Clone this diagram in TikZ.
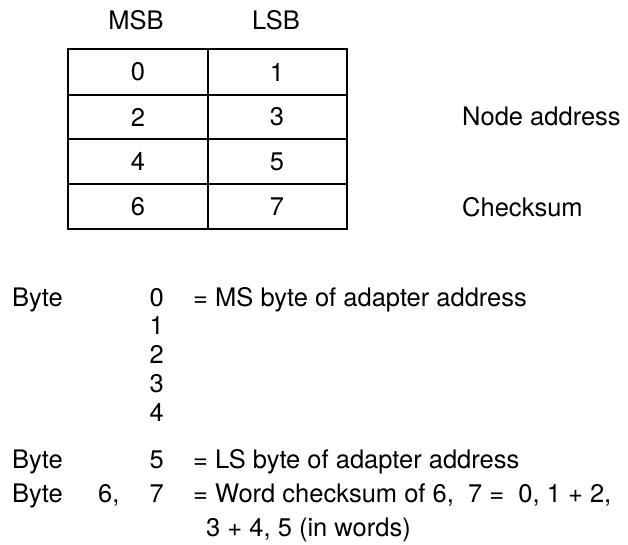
\documentclass[tikz,border=0pt]{standalone}
\usepackage{fontspec}
\setmainfont{TeX Gyre Heros}
\begin{document}
\begin{tikzpicture}[x=1pt,y=-1pt,
  txt/.style={inner sep=0pt,font=\fontsize{25.5}{30}\selectfont},
  gridline/.style={line width=1.2pt,line cap=rect}]
\useasboundingbox (0,0) rectangle (628,545);
% header
\node[txt,anchor=base] (msb) at (136,30) {MSB};
\node[txt,anchor=base] (lsb) at (276,30) {LSB};
% table
\draw[gridline] (68,49) rectangle (347,229);
\foreach \yy in {95,139,184} \draw[gridline] (68,\yy) -- (347,\yy);
\draw[gridline] (208,49) -- (208,229);
\node[txt] (c0) at (138,72) {0};
\node[txt] (c1) at (277,72) {1};
\node[txt] (c2) at (138,117) {2};
\node[txt] (c3) at (277,117) {3};
\node[txt] (c4) at (138,161.5) {4};
\node[txt] (c5) at (277,161.5) {5};
\node[txt] (c6) at (138,206.5) {6};
\node[txt] (c7) at (277,206.5) {7};
\node[txt,anchor=base west] (nodeaddr) at (462,126) {Node address};
\node[txt,anchor=base west] (chks) at (462,216) {Checksum};
% description
\node[txt,anchor=base west] (byteA) at (12,306) {Byte};
\node[txt,anchor=base east] (d0) at (164,306) {0};
\node[txt,anchor=base west] (eq0) at (193,306) {= MS byte of adapter address};
\node[txt,anchor=base east] (d1) at (164,334) {1};
\node[txt,anchor=base east] (d2) at (164,363) {2};
\node[txt,anchor=base east] (d3) at (164,392) {3};
\node[txt,anchor=base east] (d4) at (164,421) {4};
\node[txt,anchor=base west] (byteB) at (12,468) {Byte};
\node[txt,anchor=base east] (d5) at (164,468) {5};
\node[txt,anchor=base west] (eq5) at (193,468) {= LS byte of adapter address};
\node[txt,anchor=base west] (byteC) at (12,502) {Byte};
\node[txt,anchor=base west] (d6) at (98,502) {6,};
\node[txt,anchor=base east] (d7) at (164,502) {7};
\node[txt,anchor=base west] (eq6) at (193,502) {= Word checksum of 6,\ \ 7 =\ \ 0, 1 + 2,};
\node[txt,anchor=base west] (eq6b) at (206,536) {3 + 4, 5 (in words)};
\end{tikzpicture}
\end{document}
